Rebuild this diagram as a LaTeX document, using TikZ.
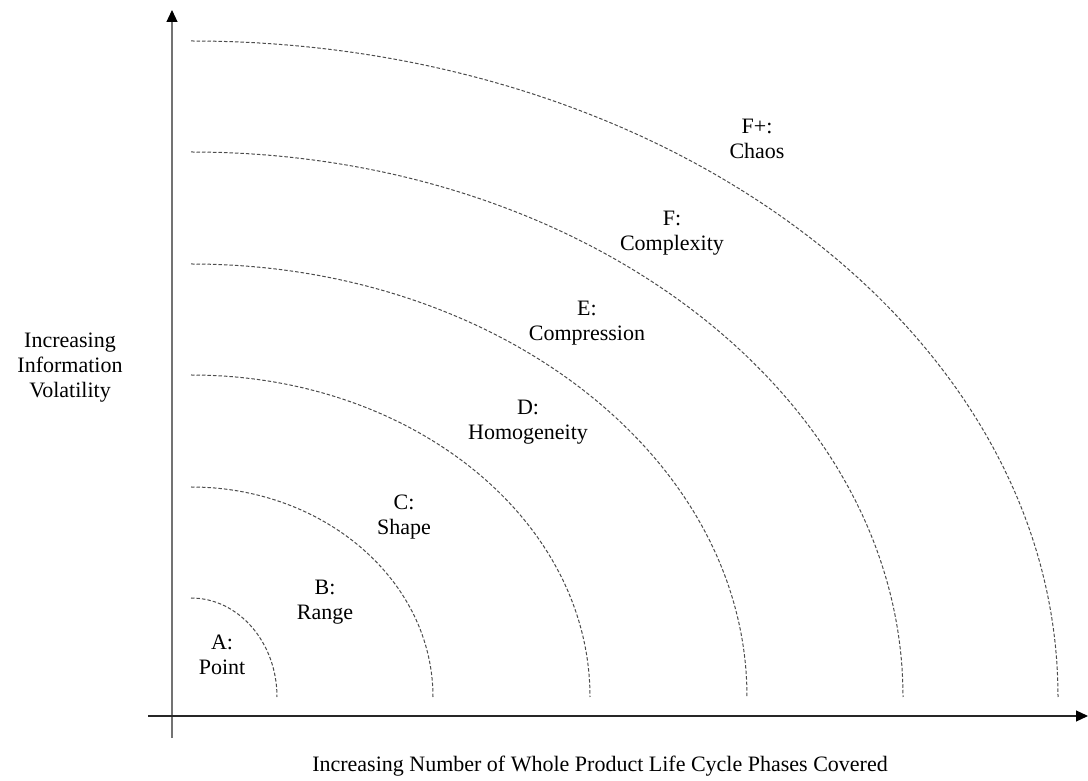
\documentclass[tikz,border=0pt]{standalone}
\usepackage{fontspec}
\setmainfont{Liberation Serif}
\usetikzlibrary{arrows.meta}
\begin{document}
\begin{tikzpicture}[x=1pt,y=1pt,
  axis/.style={line width=1.2pt,-{Triangle[length=12pt,width=11pt,color=black]}},
  band/.style={black!70,line width=1pt,dash pattern=on 3.5pt off 2pt},
  lbl/.style={align=center,inner sep=0pt,font=\fontsize{22}{25}\selectfont}]
\useasboundingbox (0,0) rectangle (1088,780);
% axes
\coordinate (ybot) at (172,42);
\coordinate (ytop) at (172,770);
\coordinate (xleft) at (148,64);
\coordinate (xright) at (1088,64);
\draw[axis,draw=gray!90!black] (ybot) -- (ytop);
\draw[axis,draw=black!85] (xleft) -- (xright);
% nested quarter-ellipse bands, centre (191,83)
\coordinate (c) at (191,83);
\foreach \rx/\ry in {86/99, 242/210, 399/322, 556/433, 712/545, 867/656}
  \draw[band] ([yshift=\ry pt]c) arc[start angle=90,end angle=0,x radius=\rx,y radius=\ry];
% band labels
\node[lbl] (a) at (222,125) {A:\\Point};
\node[lbl] (b) at (325,178) {B:\\Range};
\node[lbl] (cc) at (404,263) {C:\\Shape};
\node[lbl] (d) at (528,358) {D:\\Homogeneity};
\node[lbl] (e) at (587,457) {E:\\Compression};
\node[lbl] (f) at (672,547) {F:\\Complexity};
\node[lbl] (fp) at (757,641) {F+:\\Chaos};
% axis titles
\node[lbl] (ylab) at (70,412) {Increasing\\Information\\Volatility};
\node[lbl] (xlab) at (600,14) {Increasing Number of Whole Product Life Cycle Phases Covered};
\end{tikzpicture}
\end{document}
